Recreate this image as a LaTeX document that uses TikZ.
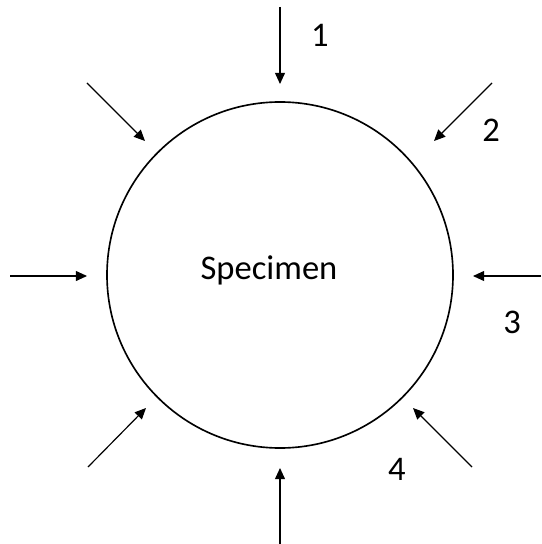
\documentclass[tikz,border=0pt]{standalone}
\usepackage{fontspec}
\setmainfont{Carlito}
\usetikzlibrary{arrows.meta}
\begin{document}
\begin{tikzpicture}[x=0.03cm, y=-0.03cm, every node/.style={font=\fontsize{29.5}{35}\selectfont},
  force/.style={-{Triangle[length=9.5pt,width=8.5pt]}, line width=1pt}]
  \useasboundingbox (0,0) rectangle (541,544);
  \node[circle, draw, line width=1.4pt, minimum size=10.38cm, inner sep=0pt] (spec) at (280,275) {};
  \node (name) at (269,270) {Specimen};
  \coordinate (T0) at (280,7);   \coordinate (T1) at (280,84);
  \coordinate (TR0) at (492,83); \coordinate (TR1) at (434,141);
  \coordinate (R0) at (541,276); \coordinate (R1) at (473,276);
  \coordinate (BR0) at (472,467); \coordinate (BR1) at (413,408);
  \coordinate (B0) at (280,544); \coordinate (B1) at (280,468);
  \coordinate (BL0) at (88,467); \coordinate (BL1) at (146,408);
  \coordinate (L0) at (10,276);  \coordinate (L1) at (87,276);
  \coordinate (TL0) at (87,83);  \coordinate (TL1) at (145,141);
  \foreach \p in {T,TR,R,BR,B,BL,L,TL}
    \draw[force] (\p0) -- (\p1);
  \foreach \n/\x/\y in {1/320/35, 2/491/130, 3/512/322, 4/397/469}
    \node (lab\n) at (\x,\y) {\n};
\end{tikzpicture}
\end{document}
